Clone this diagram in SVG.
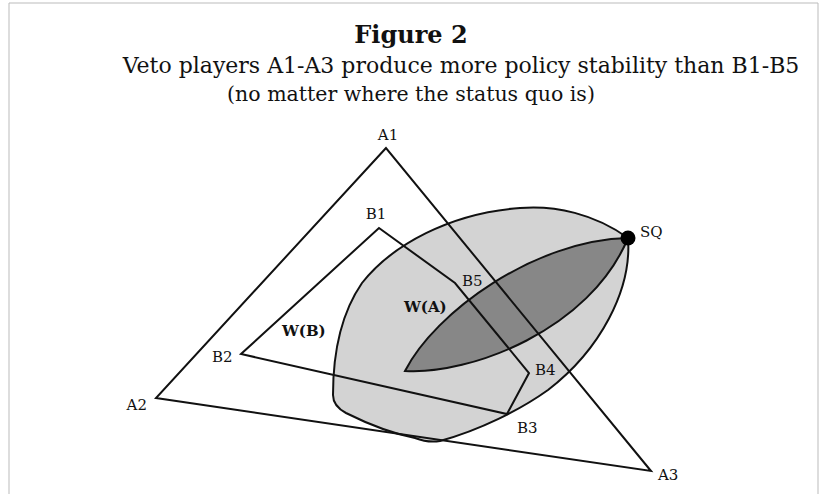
<svg xmlns="http://www.w3.org/2000/svg" width="822" height="494" viewBox="0 0 822 494">
<style>
.t{font-family:"DejaVu Serif","Liberation Serif",serif;fill:#111}
.lbl{font-family:"DejaVu Serif","Liberation Serif",serif;font-size:15px;fill:#111}
.bold{font-weight:bold}
.ln{fill:none;stroke:#111;stroke-width:2;stroke-linejoin:miter}
</style>
<rect width="822" height="494" fill="#fff"/>
<path d="M9,494 V3 H818 V494" fill="none" stroke="#bbb" stroke-width="1"/>
<g id="title">
<text class="t bold" x="411" y="43" font-size="24" text-anchor="middle">Figure 2</text>
<text class="t" x="461" y="73" font-size="22" text-anchor="middle">Veto players A1-A3 produce more policy stability than B1-B5</text>
<text class="t" x="411" y="101" font-size="20.5" text-anchor="middle">(no matter where the status quo is)</text>
</g>
<g id="WB">
<path class="ln" style="fill:#d3d3d3" d="M628,238 C595,214 555,205 520,208 C450,213 392,245 362,283 C342,312 333,350 333,395 Q333,406 346,413 C370,425 395,434 415,438 Q428,443 440,441 C480,430 520,410 548,390 C600,350 632,290 628,238 Z"/>
</g>
<g id="WA">
<path class="ln" style="fill:#878787" d="M405,371 C435,312 535,240 628,238 C590,330 470,375 405,371 Z"/>
</g>
<g id="connectors">
<polygon id="triA" class="ln" points="386,148 156,398 651,471"/>
<polygon id="polyB" class="ln" points="379,228 455,283 529,373 507,414 241,354"/>
</g>
<g id="SQ">
<circle cx="628" cy="238" r="7.5" fill="#000"/>
<text class="lbl" x="640" y="237">SQ</text>
</g>
<g id="labels">
<text class="lbl" x="388" y="140" text-anchor="middle">A1</text>
<text class="lbl" x="376" y="219" text-anchor="middle">B1</text>
<text class="lbl" x="462" y="286">B5</text>
<text class="lbl" x="535" y="375">B4</text>
<text class="lbl" x="517" y="433">B3</text>
<text class="lbl" x="212" y="362">B2</text>
<text class="lbl" x="147" y="410" text-anchor="end">A2</text>
<text class="lbl" x="658" y="480">A3</text>
<text class="lbl bold" x="404" y="312" font-size="16.5">W(A)</text>
<text class="lbl bold" x="282" y="336" font-size="16.5">W(B)</text>
</g>
</svg>
